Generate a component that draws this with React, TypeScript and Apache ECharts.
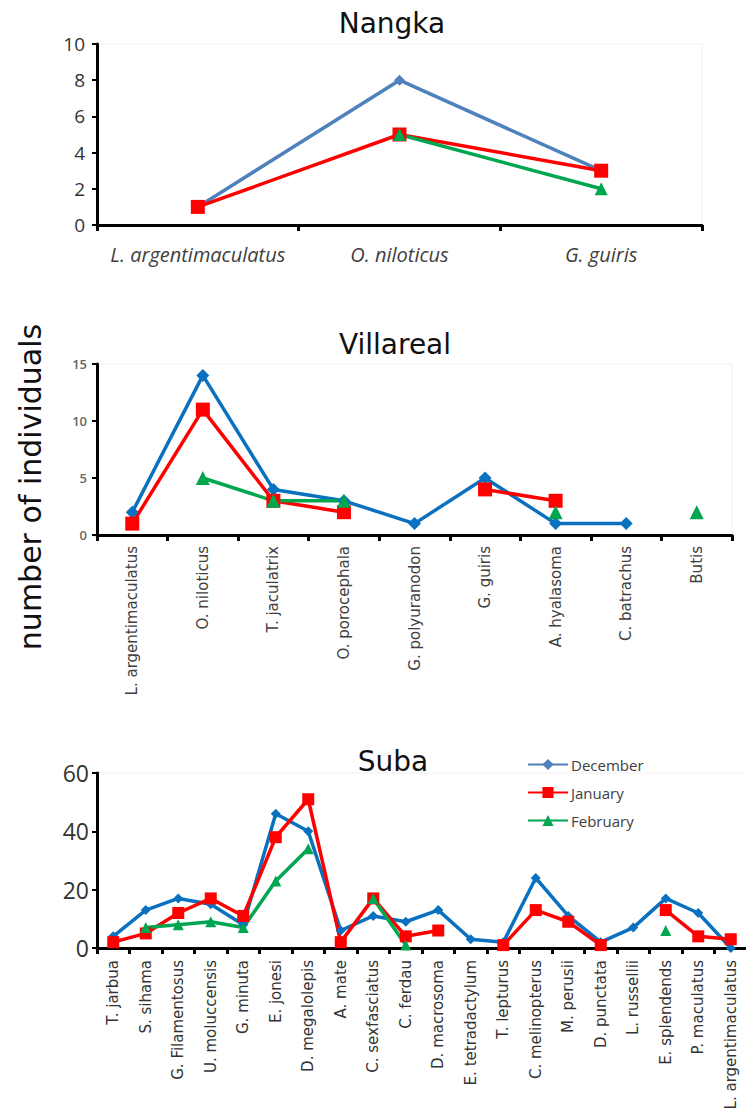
import React, { useEffect, useRef } from "react";
import * as echarts from "echarts";

// Nangka site
const nangkaSpecies = ["L. argentimaculatus", "O. niloticus", "G. guiris"];
const nangkaDec = [1, 8, 3];
const nangkaJan = [1, 5, 3];
const nangkaFeb = [null, 5, 2];

// Villareal site
const villarealSpecies = [
  "L. argentimaculatus",
  "O. niloticus",
  "T. jaculatrix",
  "O. porocephala",
  "G. polyuranodon",
  "G. guiris",
  "A. hyalasoma",
  "C. batrachus",
  "Butis",
];
const villarealDec = [2, 14, 4, 3, 1, 5, 1, 1, null];
const villarealJan = [1, 11, 3, 2, null, 4, 3, null, null];
const villarealFeb = [null, 5, 3, 3, null, null, 2, null, 2];

// Suba site
const subaSpecies = [
  "T. jarbua",
  "S. sihama",
  "G. Filamentosus",
  "U. moluccensis",
  "G. minuta",
  "E. jonesi",
  "D. megalolepis",
  "A. mate",
  "C. sexfasciatus",
  "C. ferdau",
  "D. macrosoma",
  "E. tetradactylum",
  "T. lepturus",
  "C. melinopterus",
  "M. perusii",
  "D. punctata",
  "L. russellii",
  "E. splendends",
  "P. maculatus",
  "L. argentimaculatus",
];
const subaDec = [4, 13, 17, 15, 8, 46, 40, 6, 11, 9, 13, 3, 2, 24, 11, 2, 7, 17, 12, 0];
const subaJan = [2, 5, 12, 17, 11, 38, 51, 2, 17, 4, 6, null, 1, 13, 9, 1, null, 13, 4, 3];
const subaFeb = [null, 7, 8, 9, 7, 23, 34, null, 17, 1, null, null, null, null, null, null, null, 6, null, null];

const months = ["December", "January", "February"];
const yTicks = { nangka: [0, 10, 2], villareal: [0, 15, 5], suba: [0, 60, 20] };

const BLUE_LIGHT = "#4F81BD";
const BLUE = "#0A70C0";
const RED = "#FF0000";
const GREEN = "#00A650";

const SANS = "'Open Sans', sans-serif";
const DEJAVU = "'DejaVu Sans', sans-serif";

export default function App() {
  const ref = useRef<HTMLDivElement>(null);

  useEffect(() => {
    if (!ref.current) return;
    const chart = echarts.init(ref.current, undefined, { renderer: "svg" });

    const grids = [
      { left: 97, top: 44, width: 605, height: 181 },
      { left: 97, top: 364, width: 635, height: 171 },
      { left: 97, top: 773, width: 650, height: 175 },
    ].map((g) => ({ ...g, show: true, borderColor: "#f1f1f1", borderWidth: 1, backgroundColor: "#fff" }));

    const axisLine = { show: true, lineStyle: { color: "#000", width: 3 } };

    const xBase = (i: number, data: string[]) => ({
      type: "category" as const,
      gridIndex: i,
      data,
      boundaryGap: true,
      axisLine,
      axisTick: { show: true, length: 6, lineStyle: { color: "#000", width: 3 }, alignWithLabel: false },
      splitLine: { show: false },
    });

    const xAxes = [
      {
        ...xBase(0, nangkaSpecies),
        axisLabel: {
          interval: 0,
          margin: 19,
          fontFamily: SANS,
          fontStyle: "italic",
          fontSize: 20,
          color: "#404040",
        },
      },
      {
        ...xBase(1, villarealSpecies),
        axisLabel: { interval: 0, rotate: 90, margin: 11, fontFamily: DEJAVU, fontSize: 15, color: "#404040" },
      },
      {
        ...xBase(2, subaSpecies),
        axisLabel: { interval: 0, rotate: 90, margin: 12, fontFamily: DEJAVU, fontSize: 15, color: "#333" },
      },
    ];

    const yBase = (i: number, t: number[]) => ({
      type: "value" as const,
      gridIndex: i,
      min: t[0],
      max: t[1],
      interval: t[2],
      axisLine,
      axisTick: { show: true, length: 5, lineStyle: { color: "#000", width: 2 } },
      splitLine: { show: false },
    });

    const yAxes = [
      { ...yBase(0, yTicks.nangka), axisLabel: { margin: 12, fontFamily: SANS, fontSize: 19, color: "#333" } },
      {
        ...yBase(1, yTicks.villareal),
        axisLabel: { margin: 10, fontFamily: SANS, fontSize: 13, fontWeight: 600, color: "#666" },
      },
      { ...yBase(2, yTicks.suba), axisLabel: { margin: 8, fontFamily: SANS, fontSize: 23, color: "#333" } },
    ];

    type Style = { color: string; symbol: string; size: number; width: number };
    const line = (idx: number, name: string, data: (number | null)[], s: Style) => ({
      type: "line" as const,
      name,
      xAxisIndex: idx,
      yAxisIndex: idx,
      data,
      connectNulls: false,
      symbol: s.symbol,
      symbolSize: s.size,
      showSymbol: true,
      lineStyle: { color: s.color, width: s.width },
      itemStyle: { color: s.color },
    });

    const series = [
      line(0, months[0], nangkaDec, { color: BLUE_LIGHT, symbol: "diamond", size: 11, width: 3.5 }),
      line(0, months[1], nangkaJan, { color: RED, symbol: "rect", size: 14, width: 3.5 }),
      line(0, months[2], nangkaFeb, { color: GREEN, symbol: "triangle", size: 13, width: 3.5 }),
      line(1, months[0], villarealDec, { color: BLUE, symbol: "diamond", size: 13, width: 3.5 }),
      line(1, months[1], villarealJan, { color: RED, symbol: "rect", size: 14, width: 3.5 }),
      line(1, months[2], villarealFeb, { color: GREEN, symbol: "triangle", size: 14, width: 3.5 }),
      line(2, months[0], subaDec, { color: BLUE, symbol: "diamond", size: 10, width: 3.5 }),
      line(2, months[1], subaJan, { color: RED, symbol: "rect", size: 12, width: 3.5 }),
      line(2, months[2], subaFeb, { color: GREEN, symbol: "triangle", size: 11, width: 3.5 }),
    ];

    const titleText = (text: string, x: number, y: number) => ({
      type: "text",
      x,
      y,
      style: {
        text,
        fill: "#111",
        font: `28px ${DEJAVU}`,
        align: "center",
        verticalAlign: "middle",
        textAlign: "center",
        textVerticalAlign: "middle",
      },
    });

    chart.setOption({
      animation: false,
      backgroundColor: "#fff",
      grid: grids,
      xAxis: xAxes,
      yAxis: yAxes,
      series,
      legend: {
        data: months,
        orient: "vertical",
        left: 522,
        top: 752,
        itemWidth: 40,
        itemHeight: 14,
        itemGap: 13,
        textStyle: { fontFamily: SANS, fontSize: 15, color: "#404040", padding: [0, 0, 0, -2] },
        selectedMode: false,
      },
      graphic: [
        titleText("Nangka", 392, 23),
        titleText("Villareal", 395, 344),
        titleText("Suba", 393, 761),
        {
          type: "text",
          x: 30,
          y: 487,
          rotation: Math.PI / 2,
          style: {
            text: "number of individuals",
            fill: "#111",
            font: `30px ${DEJAVU}`,
            align: "center",
            verticalAlign: "middle",
            textAlign: "center",
            textVerticalAlign: "middle",
          },
        },
      ],
    });

    return () => chart.dispose();
  }, []);

  return (
    <div
      style={{
        position: "absolute",
        left: 0,
        top: 0,
        width: 746,
        height: 1117,
        overflow: "hidden",
        background: "#fff",
      }}
    >
      <div ref={ref} style={{ width: 760, height: 1117 }} />
    </div>
  );
}
